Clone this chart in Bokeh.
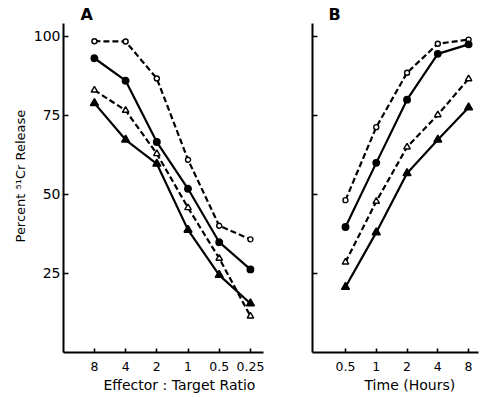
from bokeh.plotting import figure
from bokeh.models import Range1d, FixedTicker, Title
from bokeh.layouts import row
from bokeh.embed import file_html
from bokeh.resources import INLINE

# ---- data ----
ratio = [8, 4, 2, 1, 0.5, 0.25]
ratio_labels = ["8", "4", "2", "1", "0.5", "0.25"]
a_open_circle = [98.5, 98.4, 86.7, 61.0, 40.1, 35.8]
a_filled_circle = [93.1, 86.0, 66.6, 51.8, 34.9, 26.3]
a_open_tri = [83.0, 76.6, 62.9, 45.8, 29.8, 11.5]
a_filled_tri = [78.9, 67.3, 59.7, 38.8, 24.5, 15.5]

hours = [0.5, 1, 2, 4, 8]
hours_labels = ["0.5", "1", "2", "4", "8"]
b_open_circle = [48.2, 71.3, 88.5, 97.7, 99.0]
b_filled_circle = [39.7, 60.0, 80.0, 94.5, 97.5]
b_open_tri = [28.6, 47.8, 65.0, 75.2, 86.6]
b_filled_tri = [20.7, 38.0, 56.7, 67.3, 77.5]

y_ticks = [25, 50, 75, 100]

FONT = "DejaVu Sans"
INK = "#000000"


def base_fig(x_range, fw, left, right):
    p = figure(frame_width=fw, frame_height=329, x_axis_type="log",
               x_range=x_range, y_range=Range1d(0, 104.1),
               min_border_left=left, min_border_right=right,
               min_border_top=23, min_border_bottom=45,
               output_backend="svg", toolbar_location=None)
    p.outline_line_color = None
    p.grid.visible = False
    p.background_fill_color = "white"
    p.border_fill_color = "white"
    for ax in (p.xaxis[0], p.yaxis[0]):
        ax.axis_line_width = 2
        ax.axis_line_color = INK
        ax.major_tick_line_color = INK
        ax.major_tick_line_width = 1.6
        ax.major_tick_out = 0
        ax.minor_tick_line_color = None
        ax.major_label_text_font = FONT
        ax.major_label_text_color = INK
    p.xaxis.major_tick_in = 4
    p.yaxis.major_tick_in = 5
    p.yaxis.ticker = FixedTicker(ticks=y_ticks)
    p.xaxis.major_label_text_font_size = "12.5px"
    p.xaxis.major_label_standoff = 9
    p.yaxis.major_label_text_font_size = "14px"
    p.yaxis.major_label_standoff = 3
    return p


def panel_title(p, text, offset):
    p.title.text = text
    p.title.align = "left"
    p.title.offset = offset
    p.title.standoff = 0
    p.title.text_font = FONT
    p.title.text_font_size = "16px"
    p.title.text_font_style = "bold"
    p.title.text_color = INK


def axis_title(p, text, side, offset, standoff, size="14px"):
    p.add_layout(Title(text=text, align="left", offset=offset,
                       standoff=standoff, text_font=FONT,
                       text_font_size=size, text_font_style="normal",
                       text_color=INK), side)


def series(p, xs, ys, marker, filled, dashed):
    p.line(xs, ys, line_color=INK, line_width=2.2,
           line_dash="6 3" if dashed else "solid")
    size = 6.5 if marker == "circle" else 8
    if not filled:
        size -= 1.5
    p.scatter(xs, ys, marker=marker, size=size, line_color=INK,
              line_width=1.4, fill_color=INK if filled else "white")


# ---- panel A ----
pa = base_fig(Range1d(15.9, 0.187), 200, 63, 27)
pa.xaxis.ticker = FixedTicker(ticks=ratio)
pa.xaxis.major_label_overrides = {v: s for v, s in zip(ratio, ratio_labels)}
pa.yaxis.major_label_overrides = {t: str(t) for t in y_ticks}
series(pa, ratio, a_open_circle, "circle", False, True)
series(pa, ratio, a_filled_circle, "circle", True, False)
series(pa, ratio, a_open_tri, "triangle", False, True)
series(pa, ratio, a_filled_tri, "triangle", True, False)
panel_title(pa, "A", 17)
axis_title(pa, "Effector : Target Ratio", "below", 40, 2)
axis_title(pa, "Percent \u2075\u00b9Cr Release", "left", 110, 6, "13px")

# ---- panel B ----
pb = base_fig(Range1d(0.2378, 10.0), 166, 22, 2)
pb.xaxis.ticker = FixedTicker(ticks=hours)
pb.xaxis.major_label_overrides = {v: s for v, s in zip(hours, hours_labels)}
pb.yaxis.major_label_overrides = {t: "" for t in y_ticks}
pb.yaxis.major_label_standoff = 0
series(pb, hours, b_open_circle, "circle", False, True)
series(pb, hours, b_filled_circle, "circle", True, False)
series(pb, hours, b_open_tri, "triangle", False, True)
series(pb, hours, b_filled_tri, "triangle", True, False)
panel_title(pb, "B", 16)
axis_title(pb, "Time (Hours)", "below", 52, 2)

layout = row(pa, pb)
open("out.html", "w").write(file_html(layout, INLINE))
